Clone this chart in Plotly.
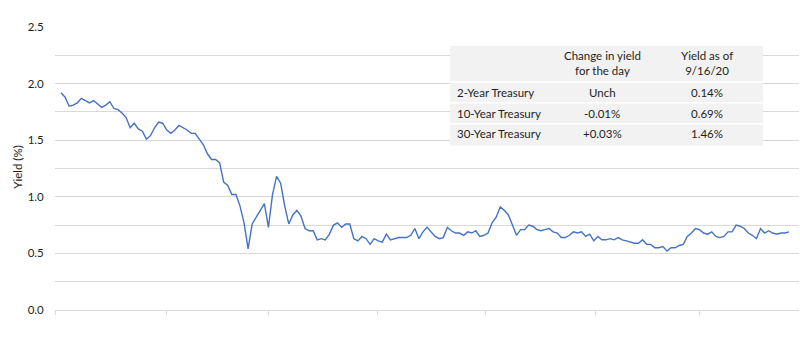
import plotly.graph_objects as go

# ---------------- data ----------------
dates = [
    "2019-12-31",
    "2020-01-02", "2020-01-03", "2020-01-06", "2020-01-07", "2020-01-08", "2020-01-09", "2020-01-10",
    "2020-01-13", "2020-01-14", "2020-01-15", "2020-01-16", "2020-01-17", "2020-01-21", "2020-01-22",
    "2020-01-23", "2020-01-24", "2020-01-27", "2020-01-28", "2020-01-29", "2020-01-30", "2020-01-31",
    "2020-02-03", "2020-02-04", "2020-02-05", "2020-02-06", "2020-02-07", "2020-02-10", "2020-02-11",
    "2020-02-12", "2020-02-13", "2020-02-14", "2020-02-18", "2020-02-19", "2020-02-20", "2020-02-21",
    "2020-02-24", "2020-02-25", "2020-02-26", "2020-02-27", "2020-02-28",
    "2020-03-02", "2020-03-03", "2020-03-04", "2020-03-05", "2020-03-06", "2020-03-09", "2020-03-10",
    "2020-03-11", "2020-03-12", "2020-03-13", "2020-03-16", "2020-03-17", "2020-03-18", "2020-03-19",
    "2020-03-20", "2020-03-23", "2020-03-24", "2020-03-25", "2020-03-26", "2020-03-27", "2020-03-30",
    "2020-03-31",
    "2020-04-01", "2020-04-02", "2020-04-03", "2020-04-06", "2020-04-07", "2020-04-08", "2020-04-09",
    "2020-04-13", "2020-04-14", "2020-04-15", "2020-04-16", "2020-04-17", "2020-04-20", "2020-04-21",
    "2020-04-22", "2020-04-23", "2020-04-24", "2020-04-27", "2020-04-28", "2020-04-29", "2020-04-30",
    "2020-05-01", "2020-05-04", "2020-05-05", "2020-05-06", "2020-05-07", "2020-05-08", "2020-05-11",
    "2020-05-12", "2020-05-13", "2020-05-14", "2020-05-15", "2020-05-18", "2020-05-19", "2020-05-20",
    "2020-05-21", "2020-05-22", "2020-05-26", "2020-05-27", "2020-05-28", "2020-05-29",
    "2020-06-01", "2020-06-02", "2020-06-03", "2020-06-04", "2020-06-05", "2020-06-08", "2020-06-09",
    "2020-06-10", "2020-06-11", "2020-06-12", "2020-06-15", "2020-06-16", "2020-06-17", "2020-06-18",
    "2020-06-19", "2020-06-22", "2020-06-23", "2020-06-24", "2020-06-25", "2020-06-26", "2020-06-29",
    "2020-06-30",
    "2020-07-01", "2020-07-02", "2020-07-06", "2020-07-07", "2020-07-08", "2020-07-09", "2020-07-10",
    "2020-07-13", "2020-07-14", "2020-07-15", "2020-07-16", "2020-07-17", "2020-07-20", "2020-07-21",
    "2020-07-22", "2020-07-23", "2020-07-24", "2020-07-27", "2020-07-28", "2020-07-29", "2020-07-30",
    "2020-07-31",
    "2020-08-03", "2020-08-04", "2020-08-05", "2020-08-06", "2020-08-07", "2020-08-10", "2020-08-11",
    "2020-08-12", "2020-08-13", "2020-08-14", "2020-08-17", "2020-08-18", "2020-08-19", "2020-08-20",
    "2020-08-21", "2020-08-24", "2020-08-25", "2020-08-26", "2020-08-27", "2020-08-28", "2020-08-31",
    "2020-09-01", "2020-09-02", "2020-09-03", "2020-09-04", "2020-09-08", "2020-09-09", "2020-09-10",
    "2020-09-11", "2020-09-14", "2020-09-15", "2020-09-16",
]

yield_10y = [
    1.92,
    1.88, 1.80, 1.81, 1.83, 1.87, 1.85, 1.83,
    1.85, 1.82, 1.79, 1.81, 1.84, 1.78, 1.77,
    1.74, 1.70, 1.61, 1.65, 1.60, 1.58, 1.51,
    1.54, 1.61, 1.66, 1.65, 1.59, 1.56, 1.59,
    1.63, 1.61, 1.59, 1.56, 1.56, 1.51, 1.46,
    1.38, 1.33, 1.33, 1.30, 1.13,
    1.10, 1.02, 1.02, 0.92, 0.77, 0.54, 0.76,
    0.82, 0.88, 0.94, 0.73, 1.02, 1.18, 1.12,
    0.92, 0.76, 0.84, 0.88, 0.83, 0.72, 0.70,
    0.70,
    0.62, 0.63, 0.62, 0.67, 0.75, 0.77, 0.73,
    0.76, 0.76, 0.63, 0.61, 0.65, 0.63, 0.58,
    0.63, 0.61, 0.60, 0.67, 0.62, 0.63, 0.64,
    0.64, 0.64, 0.66, 0.72, 0.63, 0.69, 0.73,
    0.69, 0.65, 0.63, 0.64, 0.73, 0.70, 0.68,
    0.68, 0.66, 0.69, 0.68, 0.70, 0.65,
    0.66, 0.68, 0.77, 0.82, 0.91, 0.88, 0.84,
    0.75, 0.66, 0.71, 0.71, 0.75, 0.74, 0.71,
    0.70, 0.71, 0.72, 0.69, 0.68, 0.64, 0.64,
    0.66,
    0.69, 0.68, 0.69, 0.65, 0.67, 0.61, 0.65,
    0.62, 0.62, 0.63, 0.62, 0.64, 0.62, 0.61,
    0.60, 0.59, 0.59, 0.62, 0.58, 0.58, 0.55,
    0.55,
    0.56, 0.52, 0.55, 0.55, 0.57, 0.58, 0.65,
    0.68, 0.72, 0.71, 0.68, 0.67, 0.69, 0.65,
    0.64, 0.65, 0.69, 0.69, 0.75, 0.74, 0.72,
    0.68, 0.66, 0.63, 0.72, 0.68, 0.70, 0.68,
    0.67, 0.68, 0.68, 0.69,
]

y_tick_values = [0.0, 0.25, 0.5, 0.75, 1.0, 1.25, 1.5, 1.75, 2.0, 2.25, 2.5]
y_tick_labels = ["0.0", "", "0.5", "", "1.0", "", "1.5", "", "2.0", "", "2.5"]
x_tick_positions = [-1.48, 25.9, 51.0, 77.9, 104.3, 131.3, 157.1]

table_header = ["", "Change in yield<br>for the day", "Yield as of<br>9/16/20"]
table_names = ["2-Year Treasury", "10-Year Treasury", "30-Year Treasury"]
table_change = ["Unch", "-0.01%", "+0.03%"]
table_yield = ["0.14%", "0.69%", "1.46%"]

# ---------------- layout helpers ----------------
W, H = 800, 354
ML, MR, MT, MB = 55, 1, 27, 43.5
PW = W - ML - MR
PH = H - MT - MB


def px_x(p):
    return (p - ML) / PW


def px_y(p):
    return (H - MB - p) / PH


FONT = "Lato, 'Open Sans', sans-serif"
TXT = "#1E1E1E"
TSIZE = 11.5

x_idx = list(range(len(yield_10y)))

fig = go.Figure()
fig.add_trace(go.Scatter(
    x=x_idx, y=yield_10y, mode="lines",
    line=dict(color="#4472C4", width=1.4),
    text=dates, hoverinfo="text+y",
))

shapes = []
bx0, bx1, by0, by1 = 450, 763, 46, 146
shapes.append(dict(type="rect", xref="paper", yref="paper",
                   x0=px_x(bx0), x1=px_x(bx1), y0=px_y(by1), y1=px_y(by0),
                   fillcolor="#F2F2F2", line=dict(width=0), layer="above"))
for sy in [82, 103, 124]:
    shapes.append(dict(type="line", xref="paper", yref="paper",
                       x0=px_x(bx0), x1=px_x(bx1), y0=px_y(sy), y1=px_y(sy),
                       line=dict(color="white", width=1.5), layer="above"))

annotations = []
col_c2, col_c3 = 602, 707
for cx, txt in [(col_c2, table_header[1]), (col_c3, table_header[2])]:
    annotations.append(dict(xref="paper", yref="paper", x=px_x(cx), y=px_y(63),
                            text=txt, showarrow=False, xanchor="center", yanchor="middle",
                            font=dict(family=FONT, size=TSIZE, color=TXT)))
row_y = [93, 113.5, 134]
for i in range(3):
    annotations.append(dict(xref="paper", yref="paper", x=px_x(455), y=px_y(row_y[i]),
                            text=table_names[i], showarrow=False, xanchor="left", yanchor="middle",
                            font=dict(family=FONT, size=TSIZE, color=TXT)))
    annotations.append(dict(xref="paper", yref="paper", x=px_x(col_c2), y=px_y(row_y[i]),
                            text=table_change[i], showarrow=False, xanchor="center", yanchor="middle",
                            font=dict(family=FONT, size=TSIZE, color=TXT)))
    annotations.append(dict(xref="paper", yref="paper", x=px_x(col_c3), y=px_y(row_y[i]),
                            text=table_yield[i], showarrow=False, xanchor="center", yanchor="middle",
                            font=dict(family=FONT, size=TSIZE, color=TXT)))
annotations.append(dict(xref="paper", yref="paper", x=px_x(18), y=px_y(168),
                        text="Yield (%)", textangle=-90, showarrow=False,
                        xanchor="center", yanchor="middle",
                        font=dict(family=FONT, size=11.5, color=TXT)))

fig.update_layout(
    width=W, height=H,
    margin=dict(l=ML, r=MR, t=MT, b=MB, autoexpand=False),
    plot_bgcolor="white", paper_bgcolor="white",
    showlegend=False,
    font=dict(family=FONT, size=11, color=TXT),
    shapes=shapes,
    annotations=annotations,
    xaxis=dict(
        range=[-1.48, len(yield_10y) - 1 + 2.46],
        showgrid=False, zeroline=False,
        showline=True, linecolor="#D9D9D9", linewidth=1,
        ticks="outside", ticklen=4, tickcolor="#D9D9D9", tickwidth=1,
        tickvals=x_tick_positions, showticklabels=False,
    ),
    yaxis=dict(
        range=[0, 2.5],
        tickvals=y_tick_values, ticktext=y_tick_labels,
        showgrid=True, gridcolor="#D9D9D9", gridwidth=1,
        zeroline=False, showline=False,
        ticks="outside", ticklen=8, tickcolor="rgba(0,0,0,0)",
        tickfont=dict(family=FONT, size=11.5, color=TXT),
    ),
)

fig.write_html("out.html")
